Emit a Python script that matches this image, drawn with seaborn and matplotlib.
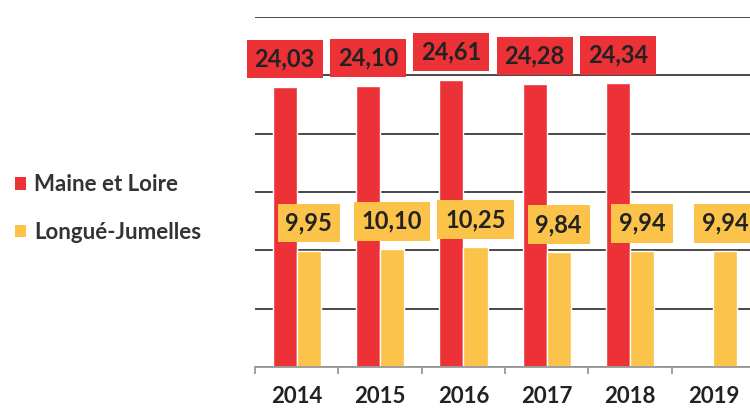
import numpy as np
import pandas as pd
import matplotlib
matplotlib.use("Agg")
import matplotlib.pyplot as plt
import seaborn as sns
from matplotlib.patches import Patch

# values
years = ["2014", "2015", "2016", "2017", "2018", "2019"]
maine_et_loire = [24.03, 24.10, 24.61, 24.28, 24.34, np.nan]
longue_jumelles = [9.95, 10.10, 10.25, 9.84, 9.94, 9.94]
series = ["Maine et Loire", "Longué-Jumelles"]
colors = ["#EC3237", "#FBC34A"]

df = pd.DataFrame({
    "annee": years * 2,
    "serie": [series[0]] * len(years) + [series[1]] * len(years),
    "taux": maine_et_loire + longue_jumelles,
})

sns.set_theme(style="white")
plt.rcParams["font.family"] = ["Lato", "DejaVu Sans"]

fig = plt.figure(figsize=(7.5, 4.12), dpi=100)
ax = fig.add_axes([255 / 750, 45 / 412, 500 / 750, 350 / 412])

sns.barplot(data=df, x="annee", y="taux", hue="serie", hue_order=series,
            palette=colors, width=0.58, saturation=1, legend=False, ax=ax)

ax.set_ylim(0, 30)
ax.set_xlim(-0.5, 5.5)
ax.set_yticks(np.arange(0, 31, 5))
ax.set_yticklabels([])
ax.yaxis.grid(True, color="#474747", linewidth=1.4)
ax.set_axisbelow(True)
ax.set_xlabel("")
ax.set_ylabel("")

for side in ["top", "right", "left"]:
    ax.spines[side].set_visible(False)
ax.spines["bottom"].set_color("#999999")
ax.spines["bottom"].set_linewidth(1.3)

ax.tick_params(axis="y", length=0)
ax.tick_params(axis="x", which="major", length=0, pad=14, labelsize=16,
               labelcolor="#222222")
ax.set_xticks(np.arange(-0.5, 6, 1), minor=True)
ax.tick_params(axis="x", which="minor", length=5, width=1.3, color="#999999",
               direction="out", bottom=True)
for lbl in ax.get_xticklabels():
    lbl.set_fontweight("bold")

# boxed value labels above each bar
for container, col in zip(ax.containers, colors):
    for bar in container:
        h = bar.get_height()
        if np.isnan(h):
            continue
        ax.annotate(f"{h:.2f}".replace(".", ","),
                    (bar.get_x() + bar.get_width() / 2, h),
                    xytext=(0, 20), textcoords="offset points",
                    ha="center", va="center", fontsize=17, fontweight="bold",
                    color="#222222", zorder=5,
                    bbox=dict(boxstyle="square,pad=0.33", facecolor=col,
                              edgecolor="none"))

handles = [Patch(facecolor=c, edgecolor="none", label=s) for c, s in zip(colors, series)]
leg = fig.legend(handles=handles, loc="center left", bbox_to_anchor=(15 / 750, 0.494),
                 frameon=False, fontsize=16, handlelength=0.5, handleheight=0.5,
                 handletextpad=0.35, labelspacing=1.2, borderpad=0, borderaxespad=0)
for t in leg.get_texts():
    t.set_fontweight("bold")
    t.set_color("#333333")

fig.savefig("out.png", dpi=100)
